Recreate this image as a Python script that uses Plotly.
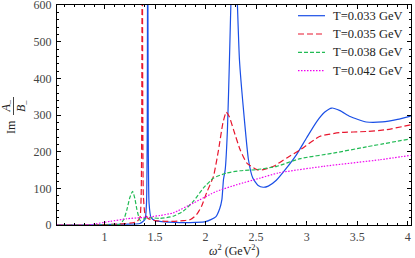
import plotly.graph_objects as go

# ---- data ----
x_033 = [0.53, 0.8, 1.0, 1.2, 1.35, 1.40, 1.415, 1.422, 1.427, 1.432, 1.44, 1.46, 1.5, 1.7, 1.9, 2.0,
         2.1, 2.14, 2.161, 2.177, 2.194, 2.216, 2.236, 2.26, 2.28, 2.30, 2.315, 2.335, 2.375, 2.424,
         2.467, 2.52, 2.57, 2.62, 2.7, 2.8, 2.9, 3.0, 3.1, 3.18, 3.249, 3.33, 3.43, 3.59, 3.75, 3.9, 4.03]
y_033 = [0, 0, 1, 2, 4, 15, 60, 250, 900, 250, 60, 20, 12, 7, 7, 9,
         22, 45, 69, 124, 151, 259, 450, 700, 800, 720, 600, 450, 314, 178,
         128, 108, 103, 106, 122, 155, 192, 238, 282, 308, 319, 312, 296, 281, 281, 288, 297]

x_035 = [0.53, 0.9, 1.1, 1.25, 1.32, 1.35, 1.362, 1.368, 1.373, 1.378, 1.384, 1.40, 1.43, 1.5, 1.6,
         1.68, 1.78, 1.85, 1.91, 1.96, 2.01, 2.078, 2.128, 2.171, 2.204, 2.235, 2.276, 2.342, 2.408,
         2.507, 2.573, 2.671, 2.804, 2.936, 3.133, 3.33, 3.59, 3.79, 4.03]
y_035 = [0, 0, 2, 5, 9, 20, 80, 300, 900, 300, 80, 30, 18, 12, 10,
         10, 12, 15, 28, 51, 88, 133, 205, 278, 308, 295, 260, 205, 169,
         151, 151, 160, 183, 205, 242, 252, 255, 260, 273]

x_038 = [0.53, 1.0, 1.15, 1.19, 1.221, 1.25, 1.277, 1.30, 1.32, 1.353, 1.40, 1.452, 1.55, 1.68,
         1.78, 1.88, 1.979, 2.078, 2.21, 2.342, 2.507, 2.705, 2.936, 3.265, 3.59, 4.03]
y_038 = [0, 0, 2, 15, 42, 75, 92, 72, 42, 12, 18, 20, 18, 24,
         38, 65, 101, 128, 142, 148, 151, 160, 181, 196, 213, 235]

x_042 = [0.53, 0.8, 0.86, 1.056, 1.22, 1.353, 1.45, 1.55, 1.68, 1.88, 2.11, 2.31, 2.54, 2.72,
         3.166, 3.727, 4.03]
y_042 = [0, 0, 1, 10, 17, 20, 22, 26, 33, 60, 92, 110, 128, 142,
         160, 178, 190]

names = ["T=0.033 GeV", "T=0.035 GeV", "T=0.038 GeV", "T=0.042 GeV"]
colors = ["#1a4fe6", "#e8162e", "#22bb55", "#f000f0"]
dashes = ["solid", "6px,3px", "4px,2px", "1.5px,1.5px"]
xs = [x_033, x_035, x_038, x_042]
ys = [y_033, y_035, y_038, y_042]

W, H = 415, 258
L, R, T, B = 57, 4, 5, 33
pw, ph = W - L - R, H - T - B

fig = go.Figure()
for x, y, n, c, d in zip(xs, ys, names, colors, dashes):
    fig.add_trace(go.Scatter(x=x, y=y, name=n, mode="lines",
                             line=dict(color=c, width=1.2, dash=d, shape="spline", smoothing=0.5),
                             showlegend=False))

font = "Liberation Serif"
fig.update_layout(
    template="none",
    width=W, height=H, margin=dict(l=L, r=R, t=T, b=B, autoexpand=False),
    paper_bgcolor="white", plot_bgcolor="white",
    font=dict(family=font, size=12, color="#444"),
    xaxis=dict(range=[0.529, 4.033], tickvals=[1, 1.5, 2, 2.5, 3, 3.5, 4],
               ticktext=["1", "1.5", "2", "2.5", "3", "3.5", "4"], automargin=False,
               ticks="inside", ticklen=4, tickwidth=1, tickcolor="black",
               minor=dict(dtick=0.1, tick0=0, ticks="inside", ticklen=2, tickcolor="black"),
               showline=True, linecolor="black", linewidth=1.3, mirror="ticks",
               showgrid=False, zeroline=False, tickfont=dict(size=12, color="#444"),
               ticklabeloverflow="allow"),
    yaxis=dict(range=[0, 600], tickvals=[0, 100, 200, 300, 400, 500, 600], automargin=False,
               ticks="inside", ticklen=4, tickwidth=1, tickcolor="black",
               minor=dict(dtick=20, tick0=0, ticks="inside", ticklen=2, tickcolor="black"),
               showline=True, linecolor="black", linewidth=1.3, mirror="ticks",
               showgrid=False, zeroline=False, tickfont=dict(size=12, color="#444"),
               ticklabelstandoff=2, ticklabeloverflow="allow"),
)

def px_x(p):
    return (p - L) / pw

def px_y(p):
    return (H - B - p) / ph

# x axis title
fig.add_annotation(text="<i>ω</i><sup>2</sup> (GeV<sup>2</sup>)", xref="paper", yref="paper",
                   x=0.5, y=px_y(250.5), xanchor="center", yanchor="middle", showarrow=False,
                   font=dict(family=font, size=12, color="#222"))

# y axis label: Im A_/B_
fig.add_annotation(text="Im", xref="paper", yref="paper", x=px_x(11), y=px_y(127),
                   textangle=-90, showarrow=False, xanchor="center", yanchor="middle",
                   font=dict(family=font, size=12, color="#222"))
fig.add_annotation(text="<i>A</i><sub>–</sub>", xref="paper", yref="paper", x=px_x(6.5), y=px_y(106),
                   textangle=-90, showarrow=False, xanchor="center", yanchor="middle",
                   font=dict(family=font, size=12, color="#222"))
fig.add_annotation(text="<i>B</i><sub>–</sub>", xref="paper", yref="paper", x=px_x(22), y=px_y(106),
                   textangle=-90, showarrow=False, xanchor="center", yanchor="middle",
                   font=dict(family=font, size=12, color="#222"))
fig.add_shape(type="line", xref="paper", yref="paper", x0=px_x(13.5), x1=px_x(13.5),
              y0=px_y(97), y1=px_y(115), line=dict(color="#444", width=1))

# manual legend
rows = [15.7, 34, 52.3, 70.7]
for ry, n, c, d in zip(rows, names, colors, dashes):
    fig.add_shape(type="line", xref="paper", yref="paper", x0=px_x(298), x1=px_x(325),
                  y0=px_y(ry), y1=px_y(ry), line=dict(color=c, width=1.2, dash=d))
    fig.add_annotation(text=n, xref="paper", yref="paper", x=px_x(331), y=px_y(ry),
                       xanchor="left", yanchor="middle", showarrow=False,
                       font=dict(family=font, size=12.5, color="#222"))

fig.write_html("out.html", config={"displayModeBar": False},
               post_script="document.body.style.margin='0';document.body.style.overflow='hidden';")
